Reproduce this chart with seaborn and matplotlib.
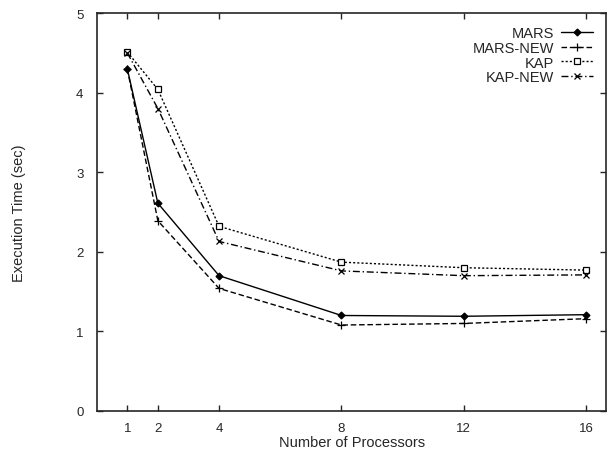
import matplotlib
matplotlib.use("Agg")
import matplotlib.pyplot as plt
import seaborn as sns
import pandas as pd

processors = [1, 2, 4, 8, 12, 16]
mars = [4.30, 2.61, 1.70, 1.20, 1.19, 1.21]
mars_new = [4.30, 2.39, 1.54, 1.08, 1.10, 1.16]
kap = [4.51, 4.04, 2.32, 1.87, 1.80, 1.77]
kap_new = [4.50, 3.80, 2.13, 1.76, 1.70, 1.71]
series_names = ["MARS", "MARS-NEW", "KAP", "KAP-NEW"]
x_ticks = [1, 2, 4, 8, 12, 16]
y_ticks = [0, 1, 2, 3, 4, 5]

sns.set_style("ticks")
plt.rcParams['font.family'] = ['Liberation Sans', 'DejaVu Sans']

fig = plt.figure(figsize=(6.08, 4.52), dpi=100)
ax = fig.add_axes([0.16, 0.0885, 0.837, 0.8805])

styles = {
    "MARS": dict(linestyle="-", marker="D", markersize=3.5, markerfacecolor="black"),
    "MARS-NEW": dict(linestyle=(0, (4, 2)), marker="+", markersize=6),
    "KAP": dict(linestyle=(0, (1.5, 1.5)), marker="s", markersize=5, markerfacecolor="white"),
    "KAP-NEW": dict(linestyle=(0, (5, 2, 1, 2)), marker="x", markersize=5),
}
values = {"MARS": mars, "MARS-NEW": mars_new, "KAP": kap, "KAP-NEW": kap_new}

for name in series_names:
    df = pd.DataFrame({"p": processors, "t": values[name]})
    st = styles[name]
    sns.lineplot(data=df, x="p", y="t", ax=ax, color="black", linewidth=1.0,
                 label=name, markeredgecolor="black", markeredgewidth=0.9, **st)

ax.set_xlim(0.02, 16.65)
ax.set_ylim(0, 5)
ax.set_xticks(x_ticks)
ax.set_yticks(y_ticks)
ax.tick_params(direction="in", top=True, right=True, length=4, width=1, labelsize=9.5)
ax.tick_params(axis="x", pad=8)
ax.tick_params(axis="y", pad=10)
for s in ax.spines.values():
    s.set_linewidth(1.2)
ax.set_xlabel("Number of Processors", fontsize=10.5, labelpad=1)
ax.set_ylabel("Execution Time (sec)", fontsize=10.5, labelpad=36)
leg = ax.legend(loc="upper right", frameon=False, markerfirst=False, fontsize=10.5,
                handlelength=2.2, labelspacing=0.05, borderaxespad=0.5, handletextpad=0.5)
fig.savefig("out.png", dpi=100)
